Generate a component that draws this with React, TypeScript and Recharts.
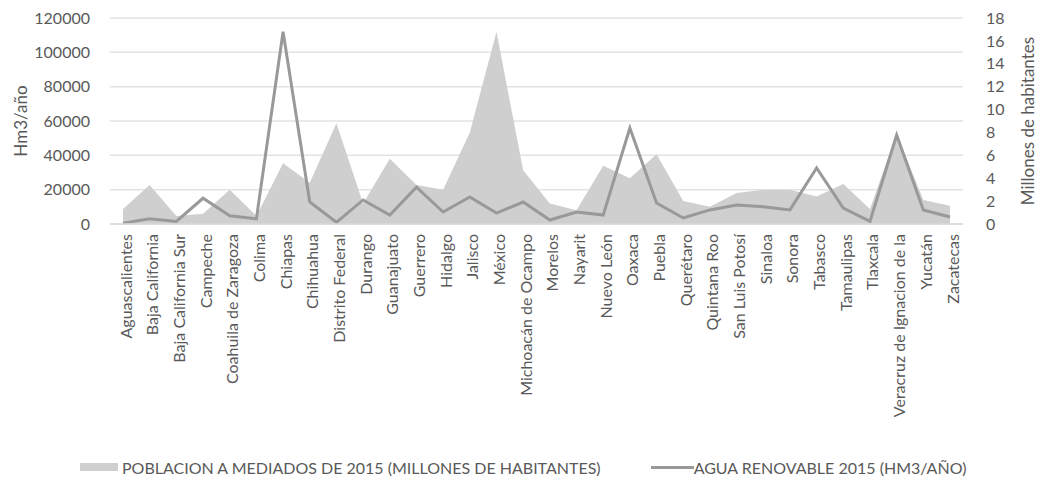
import React from 'react';
import { ComposedChart, Area, Line, XAxis, YAxis, CartesianGrid, Legend } from 'recharts';

const states = [
  'Aguascalientes', 'Baja California', 'Baja California Sur', 'Campeche', 'Coahuila de Zaragoza',
  'Colima', 'Chiapas', 'Chihuahua', 'Distrito Federal', 'Durango', 'Guanajuato', 'Guerrero',
  'Hidalgo', 'Jalisco', 'México', 'Michoacán de Ocampo', 'Morelos', 'Nayarit', 'Nuevo León',
  'Oaxaca', 'Puebla', 'Querétaro', 'Quintana Roo', 'San Luis Potosí', 'Sinaloa', 'Sonora',
  'Tabasco', 'Tamaulipas', 'Tlaxcala', 'Veracruz de Ignacion de la', 'Yucatán', 'Zacatecas',
];

// millones de habitantes (eje derecho)
const poblacion = [
  1.3, 3.4, 0.7, 0.9, 3.0, 0.7, 5.3, 3.6, 8.8, 1.8, 5.7, 3.4, 3.0, 8.0, 16.8, 4.7,
  1.8, 1.2, 5.1, 4.0, 6.1, 2.0, 1.5, 2.7, 3.0, 3.0, 2.4, 3.5, 1.3, 7.9, 2.1, 1.6,
];

// Hm3/año (eje izquierdo)
const agua = [
  500, 3000, 1500, 15000, 4800, 3000, 112000, 12800, 1000, 14000, 5200, 21500, 7000,
  15700, 6400, 12800, 2300, 7000, 5200, 55900, 12200, 3500, 8200, 11000, 10000, 8200,
  32600, 9300, 1500, 51800, 8200, 4100,
];

const leftTicks = [0, 20000, 40000, 60000, 80000, 100000, 120000];
const rightTicks = [0, 2, 4, 6, 8, 10, 12, 14, 16, 18];

const data = states.map((estado, i) => ({ estado, poblacion: poblacion[i], agua: agua[i] }));

const FONT = 'Lato, "Open Sans", sans-serif';
const TEXT = '#595959';

const StateTick = (props: any) => {
  const { x, y, payload } = props;
  return (
    <text
      x={x + 2}
      y={y}
      transform={`rotate(-90 ${x + 2} ${y})`}
      textAnchor="end"
      dominantBaseline="central"
      fill={TEXT}
      fontSize={16}
      fontFamily={FONT}
    >
      {payload.value}
    </text>
  );
};

const SideTitle = ({ viewBox, value, cx }: any) => {
  const cy = viewBox.y + viewBox.height / 2;
  return (
    <text
      x={cx}
      y={cy}
      transform={`rotate(-90 ${cx} ${cy})`}
      textAnchor="middle"
      dominantBaseline="central"
      fill={TEXT}
      fontSize={17}
      fontFamily={FONT}
    >
      {value}
    </text>
  );
};

const LegendBox = () => (
  <div
    style={{
      display: 'flex',
      alignItems: 'center',
      fontFamily: FONT,
      fontSize: 16,
      color: TEXT,
      paddingLeft: 80,
      height: 30,
      whiteSpace: 'nowrap',
    }}
  >
    <span style={{ display: 'inline-block', width: 38, height: 8, background: '#cfcfcf', marginRight: 4 }} />
    <span>POBLACION A MEDIADOS DE 2015 (MILLONES DE HABITANTES)</span>
    <span style={{ display: 'inline-block', width: 43, height: 3, background: '#999999', marginLeft: 50 }} />
    <span>AGUA RENOVABLE 2015 (HM3/AÑO)</span>
  </div>
);

export default function App() {
  return (
    <div>
      <style>{'body{margin:0;background:#fff}'}</style>
      <ComposedChart width={1045} height={482} data={data} margin={{ top: 18, right: 0, bottom: 0, left: 0 }}>
        <CartesianGrid yAxisId="left" vertical={false} stroke="#e3e3e3" strokeWidth={1.5} />
        <XAxis
          dataKey="estado"
          interval={0}
          height={228}
          padding={{ left: 13, right: 13 }}
          tick={<StateTick />}
          tickLine={false}
          tickSize={0}
          tickMargin={10}
          axisLine={{ stroke: '#d9d9d9', strokeWidth: 1.5 }}
        />
        <YAxis
          yAxisId="left"
          width={110}
          domain={[0, 120000]}
          ticks={leftTicks}
          interval={0}
          axisLine={false}
          tickLine={false}
          tickSize={0}
          tickMargin={20}
          tick={{ fill: TEXT, fontSize: 16, fontFamily: FONT }}
          label={<SideTitle value="Hm3/año" cx={20} />}
        />
        <YAxis
          yAxisId="right"
          orientation="right"
          width={82}
          domain={[0, 18]}
          ticks={rightTicks}
          interval={0}
          axisLine={false}
          tickLine={false}
          tickSize={0}
          tickMargin={23}
          tick={{ fill: TEXT, fontSize: 16, fontFamily: FONT }}
          label={<SideTitle value="Millones de habitantes" cx={1027} />}
        />
        <Area
          yAxisId="right"
          type="linear"
          dataKey="poblacion"
          stroke="none"
          fill="#cfcfcf"
          fillOpacity={1}
          isAnimationActive={false}
        />
        <Line
          yAxisId="left"
          type="linear"
          dataKey="agua"
          stroke="#999999"
          strokeWidth={3}
          dot={false}
          isAnimationActive={false}
        />
        <Legend verticalAlign="bottom" height={30} content={<LegendBox />} />
      </ComposedChart>
    </div>
  );
}
